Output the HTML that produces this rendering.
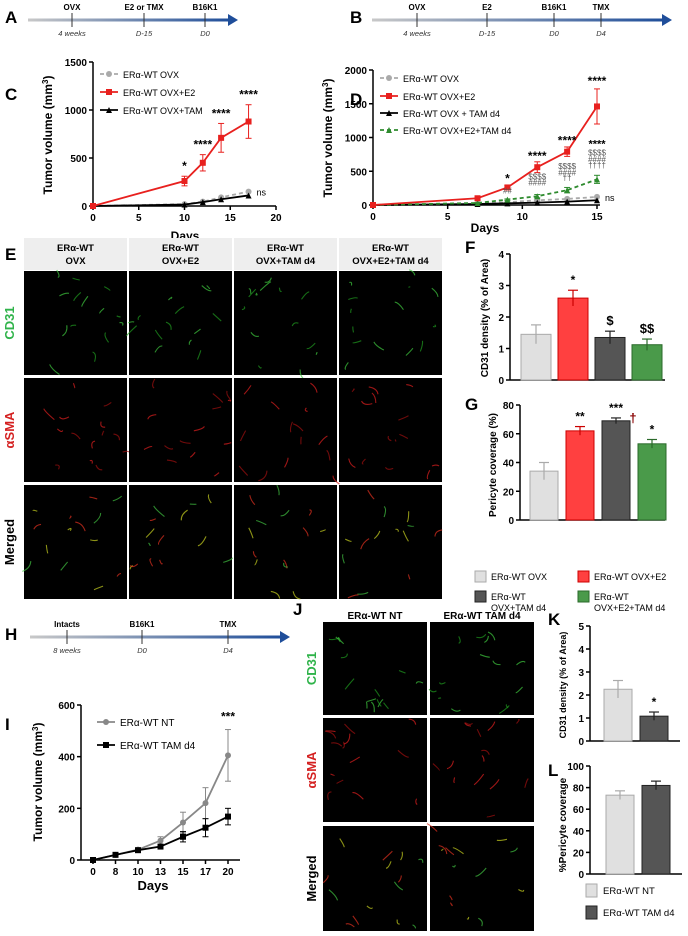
<!DOCTYPE html>
<html><head><meta charset="utf-8"><style>
body{margin:0;background:#fff;font-family:"Liberation Sans",sans-serif}
svg text{font-family:"Liberation Sans",sans-serif}
</style></head><body>
<svg id="s" width="688" height="931" xmlns="http://www.w3.org/2000/svg">
<defs>
<linearGradient id="tl" x1="0" x2="1"><stop offset="0" stop-color="#c8c8c8"/><stop offset="1" stop-color="#1f4e9a"/></linearGradient>
</defs>
</svg>
<script>
// ---------- data ----------
const cDays=[0,10,12,14,17];
const cOVX=[0,20,45,90,150];
const cE2=[0,260,450,710,880];
const cE2err=[0,50,85,150,175];
const cTAM=[0,15,40,70,110];
const dDays=[0,7,9,11,13,15];
const dOVX=[0,20,40,70,90,120];
const dE2=[0,100,260,560,790,1460];
const dE2err=[0,10,30,80,70,260];
const dTAM=[0,15,25,35,50,70];
const dE2TAM=[0,30,80,130,220,380];
const fGroups=["ERα-WT OVX","ERα-WT OVX+E2","ERα-WT OVX+TAM d4","ERα-WT OVX+E2+TAM d4"];
const fMeans=[1.45,2.6,1.35,1.12];
const fSem=[0.3,0.25,0.2,0.18];
const fStars=["","*","$","$$"];
const gMeans=[34,62,69,53];
const gSem=[6,3,2,3];
const gStars=["","**","***","*"];
const iCats=["0","8","10","13","15","17","20"];
const iNT=[0,20,40,75,145,220,405];
const iNTerr=[0,5,5,15,40,60,100];
const iTAM=[0,20,38,52,90,125,168];
const iTAMerr=[0,5,5,8,20,35,32];
const kMeans=[2.25,1.08];
const kSem=[0.38,0.18];
const lMeans=[73,82];
const lSem=[4,4];
// ---------- helpers ----------
const S=document.getElementById('s');const NS="http://www.w3.org/2000/svg";
function el(t,a,p){const e=document.createElementNS(NS,t);for(const k in a)e.setAttribute(k,a[k]);(p||S).appendChild(e);return e;}
function tx(x,y,s,o){const e=el('text',Object.assign({x:x,y:y,'font-size':11,fill:'#000'},o||{}));e.textContent=s;return e;}
function lin(d0,d1,r0,r1){return v=>r0+(v-d0)/(d1-d0)*(r1-r0);}
function label(x,y,s){const e=tx(x,y,s,{'font-size':17,'font-weight':'bold'});}
function timeline(x0,x1,y,ticks,tag){const g=el('g',{});
 el('rect',{x:x0,y:y-1.5,width:x1-x0-8,height:3,fill:'url(#tl)'},g);
 el('polygon',{points:`${x1-10},${y-6} ${x1},${y} ${x1-10},${y+6}`,fill:'#1f4e9a'},g);
 ticks.forEach(t=>{el('line',{x1:t[0],x2:t[0],y1:y-7,y2:y+7,stroke:'#333'},g);
  tx(t[0],y-10,t[1],{'font-size':8,'font-weight':'bold','text-anchor':'middle'});
  if(t[2])tx(t[0],y+16,t[2],{'font-size':7.5,'font-style':'italic','text-anchor':'middle',fill:'#333'});});}
function axisY(x,yS,ticks,fmt,name){ticks.forEach(t=>{el('line',{x1:x-4,x2:x,y1:yS(t),y2:yS(t),stroke:'#000','stroke-width':1.5});tx(x-6,yS(t)+4,fmt?fmt(t):t,{'font-size':10,'font-weight':'bold','text-anchor':'end'});});
 const a=el('line',{x1:x,x2:x,y1:yS(ticks[ticks.length-1]),y2:yS(ticks[0]),stroke:'#000','stroke-width':1.5});}
function axisX(y,xS,vals,labels,x0,x1,name){const a=el('line',{x1:x0,x2:x1,y1:y,y2:y,stroke:'#000','stroke-width':1.5});
 vals.forEach((v,i)=>{el('line',{x1:xS(v),x2:xS(v),y1:y,y2:y+4,stroke:'#000','stroke-width':1.5});tx(xS(v),y+15,labels[i],{'font-size':10,'font-weight':'bold','text-anchor':'middle'});});}
function ytitle(x,y,s,fs){const e=tx(x,y,'',{'font-size':fs||11,'font-weight':'bold','text-anchor':'middle',transform:`rotate(-90 ${x} ${y})`});e.innerHTML=s;}
function series(xs,ys,xS,yS,col,dash,mk,name,err){const g=el('g',{});
 if(err)xs.forEach((x,i)=>{if(err[i]){const X=xS(x);el('line',{x1:X,x2:X,y1:yS(ys[i]-err[i]),y2:yS(ys[i]+err[i]),stroke:col},g);[ys[i]-err[i],ys[i]+err[i]].forEach(v=>el('line',{x1:X-3,x2:X+3,y1:yS(v),y2:yS(v),stroke:col},g));}});
 el('polyline',{points:xs.map((x,i)=>xS(x)+','+yS(ys[i])).join(' '),fill:'none',stroke:col,'stroke-width':1.8,'stroke-dasharray':dash||''},g);
 xs.forEach((x,i)=>{const X=xS(x),Y=yS(ys[i]);if(mk=='s')el('rect',{x:X-3,y:Y-3,width:6,height:6,fill:col},g);else if(mk=='t')el('polygon',{points:`${X-3},${Y+3} ${X+3},${Y+3} ${X},${Y-3}`,fill:col},g);else el('circle',{cx:X,cy:Y,r:3,fill:col},g);});}
function legLine(x,y,col,dash,mk,s,fs){el('line',{x1:x,x2:x+18,y1:y,y2:y,stroke:col,'stroke-width':1.8,'stroke-dasharray':dash||''});
 if(mk=='s')el('rect',{x:x+6,y:y-3,width:6,height:6,fill:col});else if(mk=='t')el('polygon',{points:`${x+6},${y+3} ${x+12},${y+3} ${x+9},${y-3}`,fill:col});else el('circle',{cx:x+9,cy:y,r:3,fill:col});
 const t=tx(x+23,y+4,s,{'font-size':fs||9});}
function bars(xS0,bw,gap,yS,means,sem,fills,strokes,stars,name){means.forEach((m,i)=>{const x=xS0+i*(bw+gap);const b=el('rect',{x:x,y:yS(m),width:bw,height:yS(0)-yS(m),fill:fills[i],stroke:strokes[i],'stroke-width':1});
 const c=x+bw/2;el('line',{x1:c,x2:c,y1:yS(m-sem[i]),y2:yS(m+sem[i]),stroke:strokes[i],'stroke-width':1.2});el('line',{x1:c-5,x2:c+5,y1:yS(m+sem[i]),y2:yS(m+sem[i]),stroke:strokes[i],'stroke-width':1.2});
 if(stars&&stars[i])tx(c,yS(m+sem[i])-6,stars[i],{'font-size':stars[i].includes('$')?13:12,'font-weight':'bold','text-anchor':'middle'});});}
// ---------- A / B ----------
label(5,23,'A');timeline(28,238,20,[[72,'OVX','4 weeks'],[144,'E2 or TMX','D-15'],[205,'B16K1','D0']],'a');
label(350,23,'B');timeline(372,672,20,[[417,'OVX','4 weeks'],[487,'E2','D-15'],[554,'B16K1','D0'],[601,'TMX','D4']],'b');
// ---------- C ----------
label(5,100,'C');
{const xS=lin(0,20,93,276),yS=lin(0,1500,206,62);
axisY(93,yS,[0,500,1000,1500],null,'c-y-axis');axisX(206,xS,[0,5,10,15,20],['0','5','10','15','20'],93,276,'c-x-axis');
tx(185,240,'Days',{'font-size':12,'font-weight':'bold','text-anchor':'middle'});
ytitle(52,135,'Tumor volume (mm<tspan baseline-shift="super" font-size="8">3</tspan>)',12);
series(cDays,cOVX,xS,yS,'#aaa','4 3','c','c-series-ovx');series(cDays,cTAM,xS,yS,'#000','','t','c-series-tam');series(cDays,cE2,xS,yS,'#e8201e','','s','c-series-e2',cE2err);
[[10,'*'],[12,'****'],[14,'****'],[17,'****']].forEach((p,i)=>tx(xS(p[0]),yS(cE2[i+1]+cE2err[i+1])-6,p[1],{'font-size':12,'font-weight':'bold','text-anchor':'middle'}));
tx(xS(17)+8,yS(150)+4,'ns',{'font-size':9});
legLine(100,74,'#aaa','4 3','c','ERα-WT OVX');legLine(100,92,'#e8201e','','s','ERα-WT OVX+E2');legLine(100,110,'#000','','t','ERα-WT OVX+TAM');}
// ---------- D ----------
label(350,105,'D');
{const xS=lin(0,15,373,597),yS=lin(0,2000,205,70);
axisY(373,yS,[0,500,1000,1500,2000],null,'d-y-axis');axisX(205,xS,[0,5,10,15],['0','5','10','15'],373,600,'d-x-axis');
tx(485,232,'Days',{'font-size':12,'font-weight':'bold','text-anchor':'middle'});
ytitle(332,138,'Tumor volume (mm<tspan baseline-shift="super" font-size="8">3</tspan>)',12);
series(dDays,dOVX,xS,yS,'#aaa','4 3','c','d-series-ovx');series(dDays,dTAM,xS,yS,'#000','','t','d-series-tam');
series(dDays,dE2TAM,xS,yS,'#2e8b2e','4 3','t','d-series-e2tam',[0,5,10,25,40,60]);series(dDays,dE2,xS,yS,'#e8201e','','s','d-series-e2',dE2err);
tx(xS(9),yS(330),'*',{'font-size':12,'font-weight':'bold','text-anchor':'middle'});
tx(xS(11),yS(670),'****',{'font-size':12,'font-weight':'bold','text-anchor':'middle'});
tx(xS(13),yS(900),'****',{'font-size':12,'font-weight':'bold','text-anchor':'middle'});
tx(xS(15),yS(1780),'****',{'font-size':12,'font-weight':'bold','text-anchor':'middle'});
tx(xS(15),yS(850),'****',{'font-size':11,'font-weight':'bold','text-anchor':'middle'});
[['$$$$',11,380],['####',11,290],['$$$$',13,530],['####',13,440],['††',13,360],['$$$$',15,730],['####',15,640],['††††',15,550],['##',9,170]].forEach(p=>tx(xS(p[1]),yS(p[2]),p[0],{'font-size':8,fill:'#555','text-anchor':'middle'}));
tx(xS(15)+8,yS(120)+4,'ns',{'font-size':9});
legLine(380,78,'#aaa','4 3','c','ERα-WT OVX');legLine(380,96,'#e8201e','','s','ERα-WT OVX+E2');legLine(380,113,'#000','','t','ERα-WT OVX + TAM d4');legLine(380,130,'#2e8b2e','4 3','t','ERα-WT OVX+E2+TAM d4');}
// ---------- microscopy helper ----------
function micro(x,y,w,h,cols,seed,name){const g=el('g',{});
 el('rect',{x:x,y:y,width:w,height:h,fill:'#000'},g);
 let s=seed;const r=()=>{s=(s*9301+49297)%233280;return s/233280;};
 for(let i=0;i<14;i++){const px=x+4+r()*(w-8),py=y+4+r()*(h-8),dx=(r()-0.5)*22,dy=(r()-0.5)*22;
  el('path',{d:`M${px},${py} q${dx/2+(r()-0.5)*8},${dy/2+(r()-0.5)*8} ${dx},${dy}`,stroke:cols[i%cols.length],'stroke-width':1.1,fill:'none',opacity:0.7},g);}}
// ---------- E ----------
label(5,260,'E');
const eHead=[['ERα-WT','OVX'],['ERα-WT','OVX+E2'],['ERα-WT','OVX+TAM d4'],['ERα-WT','OVX+E2+TAM d4']];
const eX=[24,129,234,339],eW=103,eRows=[[271,104],[378,104],[485,114]];
const eCols=[['#3ec93e','#1f9a1f'],['#e02020','#a01010'],['#c8d020','#e03020','#40c040']];
eHead.forEach((h,i)=>{el('rect',{x:eX[i],y:238,width:eW,height:32,fill:'#eee'});tx(eX[i]+eW/2,251,h[0],{'font-size':9.5,'font-weight':'bold','text-anchor':'middle'});tx(eX[i]+eW/2,264,h[1],{'font-size':9.5,'font-weight':'bold','text-anchor':'middle'});
 eRows.forEach((r,j)=>micro(eX[i],r[0],eW,r[1],eCols[j],i*37+j*11+3,'e-image-'+i+'-'+j));});
[['CD31','#2fb34a'],['αSMA','#d42020'],['Merged','#000']].forEach((p,j)=>{const cy=eRows[j][0]+eRows[j][1]/2,e=tx(14,cy,p[0],{'font-size':13,'font-weight':'bold',fill:p[1],'text-anchor':'middle',transform:`rotate(-90 14 ${cy})`});});
// ---------- F / G ----------
const fF=['#e0e0e0','#ff4040','#555555','#4a9a4a'],fSt=['#aaa','#c00','#222','#2a6a2a'];
label(465,253,'F');
{const yS=lin(0,4,380,254);axisY(510,yS,[0,1,2,3,4],null,'f-y-axis');el('line',{x1:510,x2:665,y1:380,y2:380,stroke:'#000','stroke-width':1.5});
 bars(521,30,7,yS,fMeans,fSem,fF,fSt,fStars,'f');ytitle(488,318,'CD31 density (% of Area)',10);}
label(465,410,'G');
{const yS=lin(0,80,520,405);axisY(520,yS,[0,20,40,60,80],null,'g-y-axis');el('line',{x1:520,x2:665,y1:520,y2:520,stroke:'#000','stroke-width':1.5});
 bars(530,28,8,yS,gMeans,gSem,fF,fSt,gStars,'g');tx(633,yS(68),'†',{'font-size':13,'font-weight':'bold','fill':'#800','text-anchor':'middle'});ytitle(496,465,'Pericyte coverage (%)',10);}
[[475,578,0,['ERα-WT OVX']],[578,578,1,['ERα-WT OVX+E2']],[475,598,2,['ERα-WT','OVX+TAM d4']],[578,598,3,['ERα-WT','OVX+E2+TAM d4']]].forEach(p=>{el('rect',{x:p[0],y:p[1]-7,width:11,height:11,fill:fF[p[2]],stroke:fSt[p[2]]});p[3].forEach((s,k)=>{const t=tx(p[0]+16,p[1]+2+k*11,s,{'font-size':9});});});
// ---------- H ----------
label(5,640,'H');timeline(30,290,637,[[67,'Intacts','8 weeks'],[142,'B16K1','D0'],[228,'TMX','D4']],'h');
// ---------- I ----------
label(5,730,'I');
{const xS=i=>93+i*22.5,yS=lin(0,600,860,705);
axisY(81,yS,[0,200,400,600],null,'i-y-axis');axisX(860,xS,iCats.map((c,i)=>i),iCats,81,240,'i-x-axis');
tx(153,890,'Days',{'font-size':13,'font-weight':'bold','text-anchor':'middle'});
ytitle(42,782,'Tumor volume (mm<tspan baseline-shift="super" font-size="8">3</tspan>)',12);
const idx=iCats.map((c,i)=>i);
series(idx,iNT,xS,yS,'#888','','c','i-series-nt',iNTerr);series(idx,iTAM,xS,yS,'#000','','s','i-series-tam',iTAMerr);
tx(xS(6),yS(540),'***',{'font-size':12,'font-weight':'bold','text-anchor':'middle'});
legLine(97,722,'#888','','c','ERα-WT NT',10);legLine(97,745,'#000','','s','ERα-WT TAM d4',10);}
// ---------- J ----------
label(293,615,'J');
const jX=[323,430],jW=104,jRows=[[622,93],[718,104],[826,105]];
[['ERα-WT NT'],['ERα-WT TAM d4']].forEach((h,i)=>{tx(jX[i]+jW/2,619,h[0],{'font-size':10,'font-weight':'bold','text-anchor':'middle'});jRows.forEach((r,j)=>micro(jX[i],r[0],jW,r[1],eCols[j],i*53+j*17+5,'j-image-'+i+'-'+j));});
[['CD31','#2fb34a'],['αSMA','#d42020'],['Merged','#000']].forEach((p,j)=>{const cy=jRows[j][0]+jRows[j][1]/2,e=tx(316,cy,p[0],{'font-size':13,'font-weight':'bold',fill:p[1],'text-anchor':'middle',transform:`rotate(-90 316 ${cy})`});});
// ---------- K / L ----------
const kF=['#e0e0e0','#555'],kSt=['#aaa','#222'];
label(548,625,'K');
{const yS=lin(0,5,741,626);axisY(590,yS,[0,1,2,3,4,5],null,'k-y-axis');el('line',{x1:590,x2:680,y1:741,y2:741,stroke:'#000','stroke-width':1.5});
 bars(604,28,8,yS,kMeans,kSem,kF,kSt,["","*"],'k');ytitle(566,685,'CD31 density (% of Area)',9);}
label(548,776,'L');
{const yS=lin(0,100,874,766);axisY(590,yS,[0,20,40,60,80,100],null,'l-y-axis');el('line',{x1:590,x2:682,y1:874,y2:874,stroke:'#000','stroke-width':1.5});
 bars(606,28,8,yS,lMeans,lSem,kF,kSt,null,'l');ytitle(566,825,'%Pericyte coverage',10);}
[[890,0,'ERα-WT NT'],[912,1,'ERα-WT TAM d4']].forEach(p=>{el('rect',{x:586,y:p[0]-6,width:11,height:13,fill:kF[p[1]],stroke:kSt[p[1]]});const t=tx(603,p[0]+4,p[2],{'font-size':9.5});});
</script>
</body></html>
